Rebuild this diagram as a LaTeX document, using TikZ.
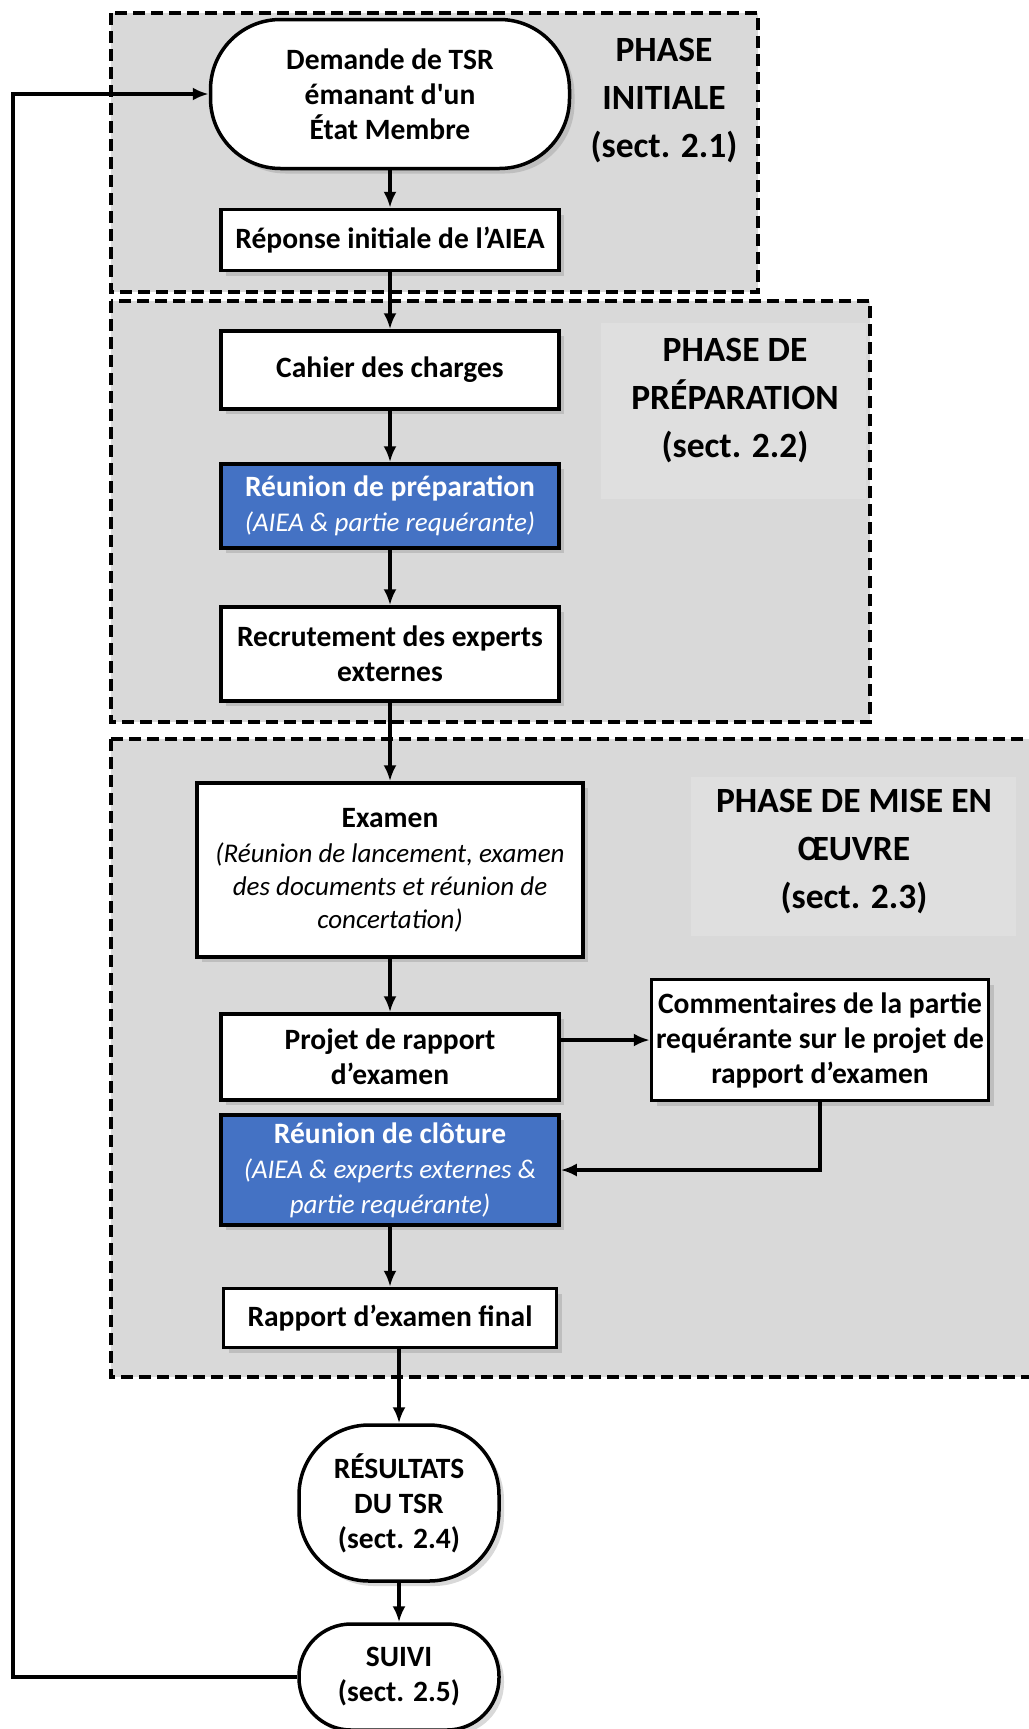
\documentclass[tikz,border=0pt]{standalone}
\usepackage{fontspec}
\setmainfont{Carlito}
\usepackage{tikz}
\usetikzlibrary{arrows.meta,shadows}

\definecolor{fondphase}{RGB}{217,217,217}
\definecolor{fondtitre}{RGB}{223,223,223}
\definecolor{bleuaiea}{RGB}{68,114,196}

\newcommand{\soustitre}[1]{{\mdseries\itshape\fontsize{27}{33}\selectfont #1}}

\begin{document}
\begin{tikzpicture}[x=1pt,y=-1pt,>={Latex[length=16pt,width=13pt]},
    phase/.style={fill=fondphase,line width=4pt,dash pattern=on 12pt off 6pt},
    etape/.style={draw,line width=3.5pt,fill=white,align=center,inner sep=4pt,
        minimum width=338pt,font=\fontsize{29.5}{35}\selectfont\bfseries,
        drop shadow={shadow xshift=5pt,shadow yshift=-5pt,opacity=0.3}},
    reunion/.style={etape,fill=bleuaiea,text=white},
    terminal/.style={etape,rounded corners=#1,minimum width=200pt},
    titre/.style={align=center,font=\fontsize{35.5}{48}\selectfont\bfseries},
    fleche/.style={->,line width=3.5pt}]
        \useasboundingbox (0,0) rectangle (1028,1729);

        % the three phases
        \draw[phase] (111,13) rectangle (758,292);
        \draw[phase] (111,301) rectangle (870,722);
        \draw[phase] (111,739) rectangle (1045,1377);

        % phase titles
        \fill[fondtitre] (601,323) rectangle (866,499);
        \fill[fondtitre] (691,777) rectangle (1016,936);
        \node[titre] (titreinit) at (664,101) {PHASE\\INITIALE\\(sect. 2.1)};
        \node[titre] (titreprep) at (735,401) {PHASE DE\\PRÉPARATION\\(sect. 2.2)};
        \node[titre] (titremise) at (854,852) {PHASE DE MISE EN\\ŒUVRE\\(sect. 2.3)};

        % the steps
        \node[terminal=70pt,minimum width=359pt,minimum height=149pt] (demande) at (390,94)
            {Demande de TSR\\émanant d\textquotesingle un\\État Membre};
        \node[etape,minimum height=61pt] (reponse) at (390,240) {Réponse initiale de l’AIEA};
        \node[etape,minimum height=78pt] (cahier) at (390,370) {Cahier des charges};
        \node[reunion,minimum height=84pt] (prep) at (390,506)
            {Réunion de préparation\\\soustitre{(AIEA \& partie requérante)}};
        \node[etape,minimum height=94pt] (recrut) at (390,654) {Recrutement des experts\\externes};
        \node[etape,minimum width=386pt,minimum height=174pt] (examen) at (390,870)
            {Examen\\\soustitre{(Réunion de lancement, examen}\\[-2pt]\soustitre{des documents et réunion de}\\[-2pt]\soustitre{concertation)}};
        \node[etape,minimum height=86pt] (projet) at (390,1057) {Projet de rapport\\d’examen};
        \node[etape,minimum width=337pt,minimum height=121pt] (comm) at (820,1040)
            {Commentaires de la partie\\requérante sur le projet de\\rapport d’examen};
        \node[reunion,minimum height=110pt] (cloture) at (390,1170)
            {Réunion de clôture\\\soustitre{(AIEA \& experts externes \&}\\\soustitre{partie requérante)}};
        \node[etape,minimum width=333pt,minimum height=59pt] (rapport) at (390,1318) {Rapport d’examen final};
        \node[terminal=70pt,minimum height=156pt] (resultats) at (399,1503) {RÉSULTATS\\DU TSR\\(sect. 2.4)};
        \node[terminal=52pt,minimum height=106pt] (suivi) at (399,1677) {SUIVI\\(sect. 2.5)};

        % connectors
        \draw[fleche] (demande) -- (reponse);
        \draw[fleche] (reponse) -- (cahier);
        \draw[fleche] (cahier) -- (prep);
        \draw[fleche] (prep) -- (recrut);
        \draw[fleche] (recrut) -- (examen);
        \draw[fleche] (examen) -- (projet);
        \draw[fleche] (projet.east |- comm.west) -- (comm.west);
        \draw[fleche] (comm.south) |- (cloture.east);
        \draw[fleche] (cloture) -- (rapport);
        \draw[fleche] (rapport.south -| resultats.north) -- (resultats.north);
        \draw[fleche] (resultats) -- (suivi);

        % back to the start
        \coordinate (retour) at (13,94);
        \draw[fleche] (suivi.west) -| (retour) -- (demande.west);
\end{tikzpicture}
\end{document}
